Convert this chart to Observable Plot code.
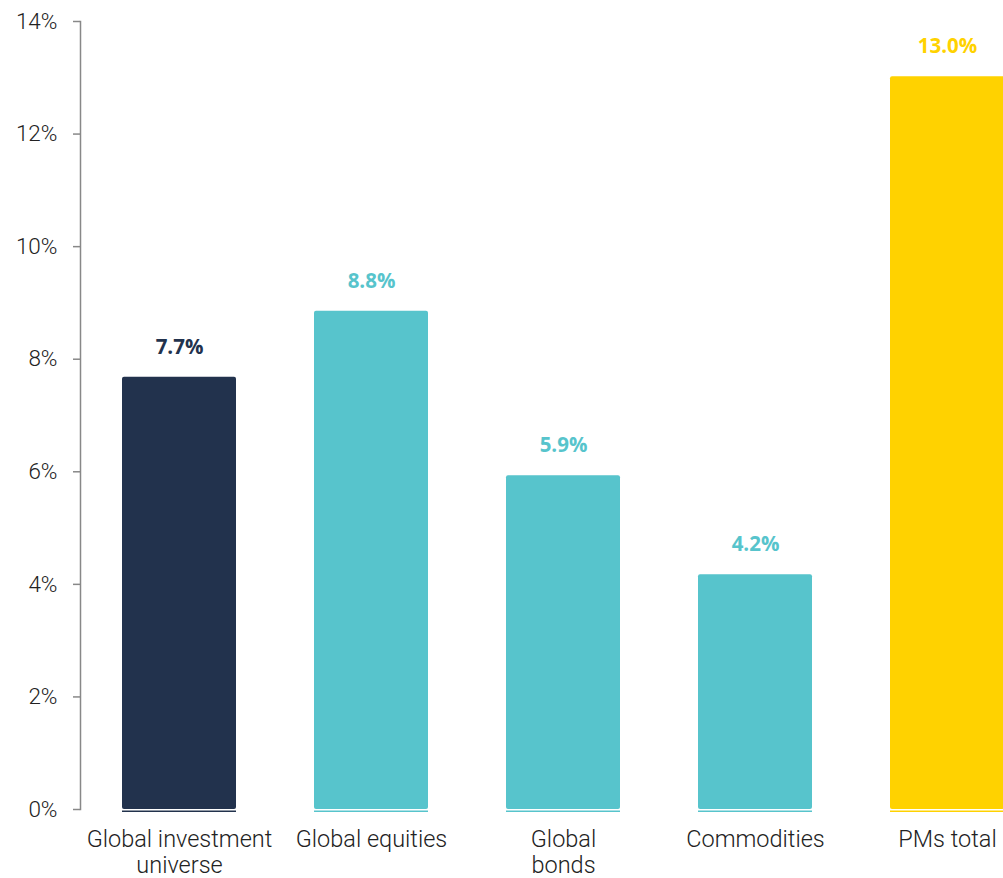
<!DOCTYPE html>
<html>
<head>
<meta charset="utf-8">
<script src="https://cdn.jsdelivr.net/npm/d3@7"></script>
<script src="https://cdn.jsdelivr.net/npm/@observablehq/plot@0.6"></script>
<style>
  html, body { margin: 0; padding: 0; background: #fff; }
  #chart svg { display: block; }
</style>
</head>
<body>
<div id="chart"></div>
<script>
const categories = ["Global investment\nuniverse", "Global equities", "Global\nbonds", "Commodities", "PMs total"];
const values = [7.68, 8.85, 5.93, 4.17, 13.02];
const labels = ["7.7%", "8.8%", "5.9%", "4.2%", "13.0%"];
const colors = ["#22324D", "#57C4CC", "#57C4CC", "#57C4CC", "#FFD200"];
const yTicks = [0, 2, 4, 6, 8, 10, 12, 14];

const data = categories.map((c, i) => ({cat: c, value: values[i], label: labels[i], color: colors[i]}));

const chart = Plot.plot({
  width: 1003,
  height: 878,
  marginTop: 21,
  marginBottom: 69,
  marginLeft: 80,
  marginRight: 0,
  style: {fontFamily: "Roboto", background: "#fff", overflow: "visible"},
  x: {domain: categories, range: [121, 1004], paddingInner: 0.407, paddingOuter: 0, label: null},
  y: {domain: [0, 14], label: null},
  marks: [
    Plot.frame({anchor: "left", stroke: "#888", strokeWidth: 1.5}),
    Plot.axisY({ticks: yTicks, tickFormat: d => d + "%", tickSize: 7, tickPadding: 16, stroke: "#888", strokeWidth: 1.5,
      fontSize: 22.5, fontWeight: 300, fill: "#222", label: null}),
    Plot.axisX({tickSize: 0, tickPadding: 19, fontSize: 23.5, fontWeight: 300, fill: "#222", lineHeight: 1.1, label: null}),
    Plot.barY(data, {x: "cat", y: "value", fill: "color", rx: 2}),
    Plot.tickY(data, {x: "cat", y: d => 0, stroke: "color", strokeWidth: 1.5, dy: 1.8}),
    Plot.ruleY([0], {stroke: "#fff", strokeWidth: 1.2, x1: 100, x2: 1003}),
    Plot.text(data, {x: "cat", y: "value", text: "label", fill: "color", dy: -30, fontSize: 20.5, fontWeight: 700,
      fontFamily: "Open Sans", letterSpacing: -0.2})
  ]
});
document.getElementById("chart").appendChild(chart);
</script>
</body>
</html>
